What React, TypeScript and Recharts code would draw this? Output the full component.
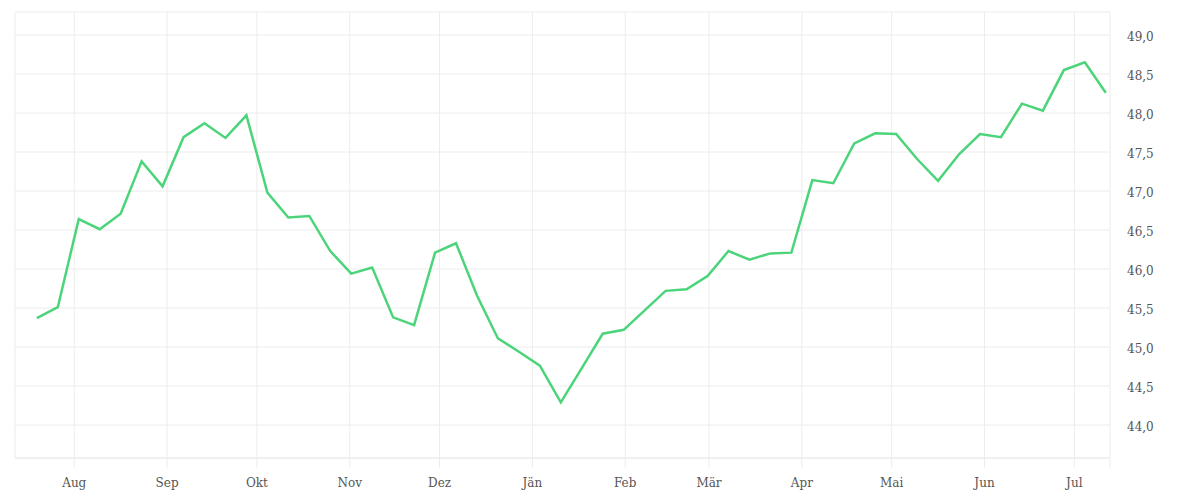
import React from 'react';
import { LineChart, Line, XAxis, YAxis, CartesianGrid } from 'recharts';

const dates = [
  '2022-07-19', '2022-07-26', '2022-08-02', '2022-08-09', '2022-08-16', '2022-08-23', '2022-08-30',
  '2022-09-06', '2022-09-13', '2022-09-20', '2022-09-27', '2022-10-04', '2022-10-11', '2022-10-18',
  '2022-10-25', '2022-11-01', '2022-11-08', '2022-11-15', '2022-11-22', '2022-11-29', '2022-12-06',
  '2022-12-13', '2022-12-20', '2022-12-27', '2023-01-03', '2023-01-10', '2023-01-17', '2023-01-24',
  '2023-01-31', '2023-02-07', '2023-02-14', '2023-02-21', '2023-02-28', '2023-03-07', '2023-03-14',
  '2023-03-21', '2023-03-28', '2023-04-04', '2023-04-11', '2023-04-18', '2023-04-25', '2023-05-02',
  '2023-05-09', '2023-05-16', '2023-05-23', '2023-05-30', '2023-06-06', '2023-06-13', '2023-06-20',
  '2023-06-27', '2023-07-04', '2023-07-11',
];

const values = [
  45.37, 45.51, 46.64, 46.51, 46.71, 47.38, 47.06, 47.69, 47.87, 47.68,
  47.97, 46.98, 46.66, 46.68, 46.23, 45.94, 46.02, 45.38, 45.28, 46.21,
  46.33, 45.66, 45.11, 44.94, 44.76, 44.29, 44.73, 45.17, 45.22, 45.47,
  45.72, 45.74, 45.91, 46.23, 46.12, 46.2, 46.21, 47.14, 47.1, 47.61,
  47.74, 47.73, 47.41, 47.13, 47.47, 47.73, 47.69, 48.12, 48.03, 48.55,
  48.65, 48.26,
];

const monthTickDates = [
  '2022-08-01', '2022-09-01', '2022-10-01', '2022-11-01', '2022-12-01', '2023-01-01',
  '2023-02-01', '2023-03-01', '2023-04-01', '2023-05-01', '2023-06-01', '2023-07-01',
];
const monthTickLabels = ['Aug', 'Sep', 'Okt', 'Nov', 'Dez', 'Jän', 'Feb', 'Mär', 'Apr', 'Mai', 'Jun', 'Jul'];

const yTicks = [44, 44.5, 45, 45.5, 46, 46.5, 47, 47.5, 48, 48.5, 49];

const toTs = (s: string, hour = 0) => {
  const [y, m, d] = s.split('-').map(Number);
  return Date.UTC(y, m - 1, d, hour);
};

const data = dates.map((d, i) => ({ t: toTs(d, 12), v: values[i] }));

const xMin = Date.UTC(2022, 6, 12, 5);
const xMax = Date.UTC(2023, 6, 12, 22);

const monthTicks = monthTickDates.map((d) => toTs(d));
const xTicks = [...monthTicks, xMax];
const labelMap = new Map<number, string>(monthTicks.map((t, i) => [t, monthTickLabels[i]]));

const GRID = '#ececec';
const TEXT = '#555';
const FONT = '"DejaVu Serif", serif';

export default function App() {
  return (
    <div style={{ width: 1184, height: 484 }}>
      <LineChart
        width={1184}
        height={484}
        data={data}
        margin={{ top: 4, right: 2, bottom: 4, left: 7 }}
      >
        <CartesianGrid stroke={GRID} strokeWidth={1} />
        <XAxis
          dataKey="t"
          type="number"
          scale="time"
          domain={[xMin, xMax]}
          ticks={xTicks}
          interval={0}
          tickFormatter={(t: number) => labelMap.get(t) ?? ''}
          axisLine={{ stroke: GRID }}
          tickLine={{ stroke: GRID }}
          tickSize={10}
          tickMargin={10}
          height={30}
          tick={{ fill: TEXT, fontSize: 12, fontFamily: FONT }}
          allowDataOverflow
        />
        <YAxis
          orientation="right"
          type="number"
          domain={[43.577, 49.295]}
          ticks={yTicks}
          interval={0}
          tickFormatter={(v: number) => v.toFixed(1).replace('.', ',')}
          axisLine={false}
          tickLine={false}
          tickSize={6}
          tickMargin={11}
          width={80}
          tick={{ fill: TEXT, fontSize: 12, fontFamily: FONT, dy: 2 }}
          allowDataOverflow
        />
        <Line
          type="linear"
          dataKey="v"
          stroke="#4cd47b"
          strokeWidth={2.5}
          dot={false}
          activeDot={false}
          isAnimationActive={false}
        />
      </LineChart>
    </div>
  );
}
